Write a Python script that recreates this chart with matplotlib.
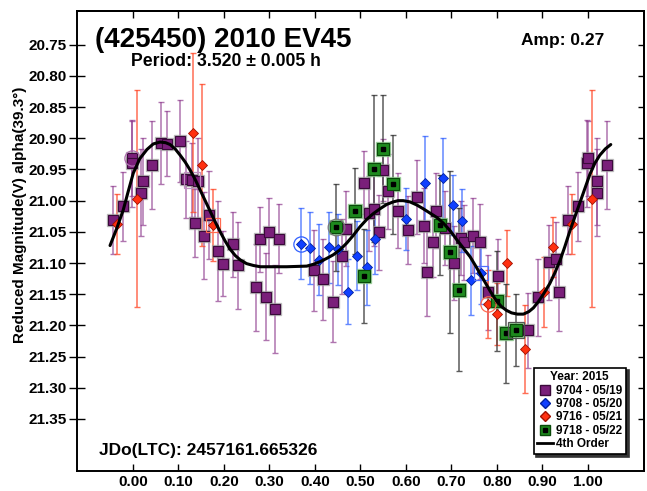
import matplotlib
matplotlib.use("Agg")
import matplotlib.pyplot as plt
from matplotlib.lines import Line2D

plt.rcParams["font.family"] = ["Liberation Sans", "DejaVu Sans"]
plt.rcParams["font.weight"] = "bold"

# ---------------- data (phase, reduced magnitude, error) ----------------
# 9704 - 05/19
p_x = [-0.0428, -0.0222, -0.0011, -0.0011, 0.0191, 0.0217, 0.0415, 0.0626, 0.0751, 0.1037,
       0.1175, 0.1311, 0.1439, 0.1366, 0.1564, 0.1680, 0.1865, 0.1975, 0.2194, 0.2304,
       0.2706, 0.2794, 0.2926, 0.2998, 0.3123, 0.3211, 0.3986, 0.4184, 0.4404, 0.4601,
       0.4683, 0.5085, 0.5194, 0.5298, 0.5414, 0.5502, 0.5612, 0.5818, 0.6055, 0.6249,
       0.6396, 0.6455, 0.6600, 0.6653, 0.6857, 0.7061, 0.7208, 0.7274, 0.7465, 0.7626,
       0.7808, 0.8028, 0.8673, 0.8893, 0.9148, 0.9295, 0.9361, 0.9552, 0.9772, 0.9969,
       1.0004, 1.0189, 1.0189, 1.0415]
p_y = [21.031, 21.009, 20.932, 20.940, 20.987, 20.969, 20.943, 20.908, 20.909, 20.904,
       20.966, 20.967, 20.969, 21.036, 21.056, 21.023, 21.081, 21.101, 21.070, 21.104,
       21.139, 21.062, 21.154, 21.050, 21.174, 21.061, 21.112, 21.126, 21.162, 21.089,
       21.045, 20.971, 21.020, 21.013, 21.051, 20.951, 20.985, 21.016, 21.047, 20.994,
       21.040, 21.115, 21.067, 21.016, 21.044, 21.100, 21.060, 21.067, 21.056, 21.066,
       21.147, 21.121, 21.208, 21.155, 21.099, 21.094, 21.147, 21.031, 21.009, 20.940,
       20.932, 20.969, 20.987, 20.943]
p_e = [0.055, 0.055, 0.060, 0.070, 0.070, 0.070, 0.070, 0.066, 0.052, 0.066,
       0.062, 0.060, 0.070, 0.055, 0.070, 0.070, 0.080, 0.052, 0.052, 0.069,
       0.070, 0.052, 0.070, 0.055, 0.070, 0.055, 0.065, 0.065, 0.065, 0.060,
       0.060, 0.050, 0.060, 0.060, 0.060, 0.050, 0.060, 0.060, 0.055, 0.060,
       0.060, 0.070, 0.055, 0.060, 0.060, 0.060, 0.060, 0.060, 0.060, 0.060,
       0.060, 0.060, 0.060, 0.062, 0.060, 0.060, 0.062, 0.055, 0.055, 0.070,
       0.060, 0.070, 0.070, 0.070]

# 9708 - 05/20
b_x = [0.3688, 0.3892, 0.4096, 0.4316, 0.4500, 0.4720, 0.4918, 0.5137, 0.5320, 0.6000,
       0.6418, 0.6820, 0.7026, 0.7237, 0.7428, 0.7641]
b_y = [21.069, 21.076, 21.095, 21.075, 21.078, 21.146, 21.088, 21.107, 21.062, 21.029,
       20.972, 20.964, 21.007, 21.032, 21.128, 21.116]
b_e = [0.057, 0.057, 0.057, 0.057, 0.057, 0.052, 0.055, 0.060, 0.055, 0.050,
       0.075, 0.065, 0.048, 0.050, 0.055, 0.050]

# 9716 - 05/21
r_x = [-0.0354, 0.0099, 0.1329, 0.1531, 0.1755, 0.7808, 0.7999, 0.8212, 0.8614, 0.9025,
       0.9236, 0.9640, 1.0086]
r_y = [21.037, 20.997, 20.891, 20.943, 21.039, 21.166, 21.182, 21.100, 21.238, 21.147,
       21.075, 21.037, 20.997]
r_e = [0.048, 0.174, 0.128, 0.130, 0.057, 0.055, 0.050, 0.053, 0.070, 0.056,
       0.048, 0.048, 0.174]

# 9718 - 05/22
g_x = [0.4463, 0.4880, 0.5085, 0.5304, 0.5502, 0.5715, 0.6747, 0.6967, 0.7171, 0.7999,
       0.8197, 0.8410]
g_y = [21.043, 21.016, 21.121, 20.949, 20.917, 20.974, 21.039, 21.083, 21.143, 21.161,
       21.213, 21.207]
g_e = [0.070, 0.069, 0.075, 0.118, 0.086, 0.080, 0.080, 0.130, 0.131, 0.080,
       0.080, 0.058]

# 4th order Fourier fit
fit_x = [-0.050, -0.035, -0.021, -0.010, 0.001, 0.015, 0.031, 0.045, 0.060, 0.072,
         0.082, 0.093, 0.104, 0.115, 0.126, 0.137, 0.148, 0.159, 0.170, 0.181,
         0.192, 0.203, 0.214, 0.225, 0.236, 0.250, 0.265, 0.280, 0.294, 0.338,
         0.382, 0.397, 0.411, 0.425, 0.440, 0.455, 0.470, 0.484, 0.499, 0.514,
         0.528, 0.543, 0.558, 0.572, 0.583, 0.594, 0.609, 0.624, 0.638, 0.653,
         0.668, 0.682, 0.697, 0.711, 0.726, 0.741, 0.755, 0.770, 0.785, 0.799,
         0.810, 0.821, 0.832, 0.845, 0.858, 0.870, 0.880, 0.891, 0.902, 0.916,
         0.927, 0.938, 0.949, 0.960, 0.975, 0.990, 1.004, 1.015, 1.026, 1.038,
         1.050]
fit_y = [21.072, 21.044, 21.015, 20.985, 20.956, 20.933, 20.918, 20.909, 20.906, 20.907,
         20.910, 20.917, 20.927, 20.938, 20.951, 20.966, 20.983, 21.000, 21.017, 21.034,
         21.050, 21.065, 21.078, 21.088, 21.095, 21.101, 21.104, 21.106, 21.106, 21.106,
         21.105, 21.102, 21.098, 21.093, 21.087, 21.079, 21.068, 21.056, 21.042, 21.030,
         21.021, 21.013, 21.006, 21.002, 21.000, 21.000, 21.002, 21.007, 21.013, 21.020,
         21.027, 21.036, 21.048, 21.062, 21.076, 21.090, 21.107, 21.126, 21.145, 21.161,
         21.170, 21.176, 21.180, 21.182, 21.182, 21.178, 21.172, 21.162, 21.150, 21.133,
         21.116, 21.097, 21.074, 21.049, 21.018, 20.987, 20.958, 20.940, 20.927, 20.917,
         20.910]

x_ticks = [0.0, 0.1, 0.2, 0.3, 0.4, 0.5, 0.6, 0.7, 0.8, 0.9, 1.0]
y_ticks = [20.75, 20.80, 20.85, 20.90, 20.95, 21.00, 21.05, 21.10, 21.15, 21.20, 21.25, 21.30, 21.35]

# ---------------- figure ----------------
fig = plt.figure(figsize=(6.47, 4.91), dpi=100)
ax = fig.add_axes([0.119, 0.041, 0.877, 0.937])

PURPLE = "#7a1f7a"
BLUE = "#1040ff"
RED = "#ff3010"
GREEN = "#1e8a1e"

# error bars
ax.errorbar(p_x, p_y, yerr=p_e, fmt="none", ecolor="#8e3a8e", elinewidth=1.1,
            capsize=2.2, capthick=1, alpha=0.7, zorder=2)
ax.errorbar(b_x, b_y, yerr=b_e, fmt="none", ecolor="#3060ff", elinewidth=1.1,
            capsize=2.2, capthick=1, alpha=0.75, zorder=2)
ax.errorbar(r_x, r_y, yerr=r_e, fmt="none", ecolor="#ff4a2a", elinewidth=1.1,
            capsize=2.2, capthick=1, alpha=0.8, zorder=2)
ax.errorbar(g_x, g_y, yerr=g_e, fmt="none", ecolor="#333333", elinewidth=1.1,
            capsize=2.2, capthick=1, alpha=0.8, zorder=2)

# markers (with a soft grey halo)
ax.plot(p_x, p_y, "s", ms=9, color="#9a9a9a", alpha=0.6, zorder=3)
ax.plot(p_x, p_y, "s", ms=7.3, mfc=PURPLE, mec="#3a0a3a", mew=0.8, zorder=4)
ax.plot(b_x, b_y, "D", ms=5, mfc=BLUE, mec="#0020a0", mew=0.6, zorder=4)
ax.plot(r_x, r_y, "D", ms=5, mfc=RED, mec="#a01000", mew=0.6, zorder=4)
ax.plot(g_x, g_y, "s", ms=9.5, color="#7fc07f", alpha=0.7, zorder=3)
ax.plot(g_x, g_y, "s", ms=8, mfc=GREEN, mec="#0a4a0a", mew=0.8, zorder=4)
ax.plot(g_x, g_y, "s", ms=3.5, color="black", zorder=5)

# highlight rings / boxes
ax.plot(p_x[2], p_y[2], "o", ms=11, mfc="none", mec="#b070b0", mew=0.9, zorder=5)
ax.plot(b_x[0], b_y[0], "o", ms=11, mfc="none", mec="#3060ff", mew=0.9, zorder=5)
ax.plot(g_x[0], g_y[0], "o", ms=12, mfc="none", mec="#777777", mew=0.9, zorder=5)
ax.plot(r_x[5], r_y[5], "o", ms=11, mfc="none", mec="#ff6a50", mew=0.9, zorder=5)
ax.plot(r_x[4], r_y[4], "s", ms=10, mfc="none", mec="#ff6a50", mew=0.9, zorder=5)
ax.plot(b_x[15], b_y[15], "s", ms=10, mfc="none", mec="#5070ff", mew=0.9, zorder=5)
ax.plot(g_x[11], g_y[11], "s", ms=12, mfc="none", mec="#555555", mew=0.9, zorder=5)
ax.plot(p_x[11], p_y[11], "s", ms=11, mfc="none", mec="#c090c0", mew=0.9, zorder=5)

# fit curve
ax.plot(fit_x, fit_y, color="black", lw=2.2, solid_capstyle="round",
        solid_joinstyle="round", zorder=6)

# axes
ax.set_xlim(-0.1226, 1.1239)
ax.set_ylim(21.4334, 20.6955)
ax.set_xticks(x_ticks)
ax.set_xticklabels([f"{v:.2f}" for v in x_ticks])
ax.set_yticks(y_ticks)
ax.set_yticklabels([f"{v:.2f}" for v in y_ticks])
ax.tick_params(axis="x", direction="in", length=5, width=1, labelsize=11, pad=3, top=False)
ax.tick_params(axis="y", direction="inout", length=11, width=1, labelsize=11, pad=2, right=False)
for s in ax.spines.values():
    s.set_linewidth(1.4)

sx = ax.secondary_xaxis("top")
sx.set_xticks(x_ticks)
sx.tick_params(direction="in", length=5, width=1, labeltop=False)
sy = ax.secondary_yaxis("right")
sy.set_yticks(y_ticks)
sy.tick_params(direction="in", length=4, width=1, labelright=False)
for s in list(sx.spines.values()) + list(sy.spines.values()):
    s.set_linewidth(1.4)

# texts
fig.text(95 / 647, 1 - 40 / 491, "(425450) 2010 EV45", fontsize=20, ha="left", va="center")
fig.text(131 / 647, 1 - 62 / 491, "Period: 3.520 \u00b1 0.005 h", fontsize=12.7, ha="left", va="center")
fig.text(604 / 647, 1 - 40 / 491, "Amp: 0.27", fontsize=12.5, ha="right", va="center")
fig.text(99 / 647, 1 - 450 / 491, "JDo(LTC): 2457161.665326", fontsize=12.5, ha="left", va="center")
fig.text(20 / 647, 1 - 215 / 491, "Reduced Magnitude(V) alpha(39.3\u00b0)", fontsize=11,
         rotation=90, ha="center", va="center")

# legend
h_p = Line2D([], [], ls="none", marker="s", ms=7, mfc=PURPLE, mec="#3a0a3a")
h_b = Line2D([], [], ls="none", marker="D", ms=5, mfc=BLUE, mec="#0020a0")
h_r = Line2D([], [], ls="none", marker="D", ms=5, mfc=RED, mec="#a01000")
h_g1 = Line2D([], [], ls="none", marker="s", ms=7.5, mfc=GREEN, mec="#0a4a0a")
h_g2 = Line2D([], [], ls="none", marker="s", ms=3.5, color="black")
h_f = Line2D([], [], color="black", lw=2)
leg = ax.legend([h_p, h_b, h_r, (h_g1, h_g2), h_f],
                ["9704 - 05/19", "9708 - 05/20", "9716 - 05/21", "9718 - 05/22", "4th Order"],
                title="Year: 2015", loc="lower right", bbox_to_anchor=(0.9674, 0.037),
                fontsize=8.5, title_fontproperties={"weight": "bold", "size": 8.5},
                frameon=True, fancybox=False, edgecolor="black", framealpha=1,
                shadow={"facecolor": "#333333", "edgecolor": "#333333", "alpha": 1},
                handlelength=1.3, handletextpad=0.3, labelspacing=0.12, borderpad=0.3,
                borderaxespad=0)
leg.get_frame().set_linewidth(1.2)
leg.set_zorder(10)

fig.savefig("out.png", dpi=100)
